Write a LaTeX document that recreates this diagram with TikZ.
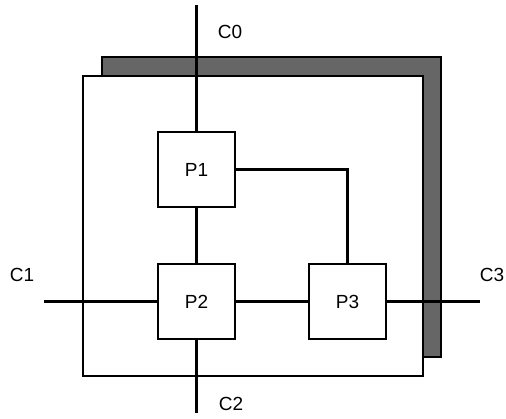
\documentclass[tikz,border=0pt]{standalone}
\usepackage{fontspec}
\setmainfont{Liberation Sans}
\begin{document}
\begin{tikzpicture}[x=1pt,y=-1pt,
  every node/.style={font=\fontsize{19}{21}\selectfont},
  proc/.style={draw,line width=2.4pt,fill=white,minimum width=77pt,minimum height=75pt,inner sep=0pt},
  wire/.style={line width=2.4pt},
  frame/.style={draw,line width=2.4pt,fill=white},
  shadow/.style={draw=black,line width=1.5pt,fill=black!60},
  lbl/.style={inner sep=0pt}]
\useasboundingbox (0,0) rectangle (506,418);
% shadow and frame
\draw[shadow] (102,57) rectangle (441,357);
\draw[frame] (83,76) rectangle (423,376);
% processors
\node[proc] (P1) at (196.5,169.5) {P1};
\node[proc] (P2) at (196.5,301.5) {P2};
\node[proc] (P3) at (347.5,301.5) {P3};
% free ends
\coordinate (c0) at (196.5,5);
\coordinate (c1) at (44,301.5);
\coordinate (c2) at (196.5,413);
\coordinate (c3) at (480,301.5);
% connectors
\draw[wire] (c0) -- (P1.north);
\draw[wire] (P1.south) -- (P2.north);
\draw[wire] (P1.east) -| (P3.north);
\draw[wire] (c1) -- (P2.west);
\draw[wire] (P2.east) -- (P3.west);
\draw[wire] (P3.east) -- (c3);
\draw[wire] (P2.south) -- (c2);
% labels
\node[lbl] (l0) at (230,32) {C0};
\node[lbl] (l1) at (22,275) {C1};
\node[lbl] (l2) at (231,404) {C2};
\node[lbl] (l3) at (492,275) {C3};
\end{tikzpicture}
\end{document}
